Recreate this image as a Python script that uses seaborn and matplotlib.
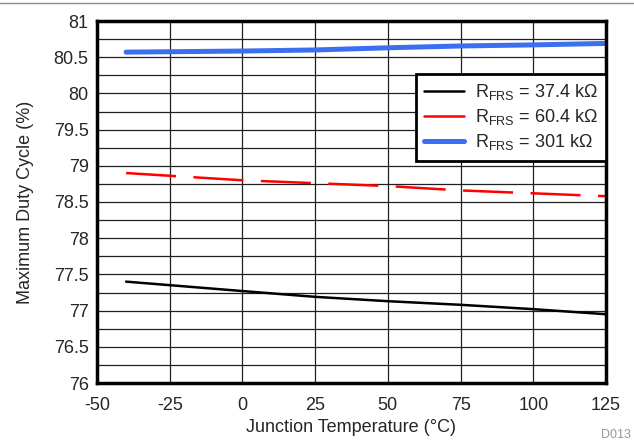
import numpy as np
import pandas as pd
import seaborn as sns
import matplotlib.pyplot as plt
from matplotlib.lines import Line2D

# junction temperature points (degC)
temp = [-40, 0, 25, 50, 75, 100, 125]

# maximum duty cycle (%) for each RFRS value
duty_374k = [77.40, 77.27, 77.19, 77.13, 77.08, 77.02, 76.95]
duty_604k = [78.90, 78.80, 78.76, 78.72, 78.66, 78.62, 78.58]
duty_301k = [80.57, 80.585, 80.60, 80.63, 80.655, 80.67, 80.69]

labels = ['R$_{\\mathregular{FRS}}$ = 37.4 k\u03a9',
          'R$_{\\mathregular{FRS}}$ = 60.4 k\u03a9',
          'R$_{\\mathregular{FRS}}$ = 301 k\u03a9']

sns.set_style('white')
plt.rcParams['font.family'] = ['Liberation Sans', 'DejaVu Sans']
plt.rcParams['mathtext.fontset'] = 'custom'
plt.rcParams['mathtext.rm'] = 'Liberation Sans'
plt.rcParams['axes.unicode_minus'] = False

fig = plt.figure(figsize=(6.34, 4.46), dpi=100)
ax = fig.add_axes([97 / 634, 1 - 383 / 446, (606 - 97) / 634, (383 - 21) / 446])

styles = [
    dict(color='black', lw=1.8),
    dict(color='red', lw=1.8, dashes=(20, 7)),
    dict(color='#3c6ef0', lw=3.6),
]
for vals, lab, st in zip([duty_374k, duty_604k, duty_301k], labels, styles):
    df = pd.DataFrame({'temp': temp, 'duty': vals})
    line = sns.lineplot(data=df, x='temp', y='duty', ax=ax, label=lab,
                        color=st['color'], lw=st['lw']).lines[-1]
    if 'dashes' in st:
        line.set_dashes(st['dashes'])

ax.set_xlim(-50, 125)
ax.set_ylim(76, 81)
ax.set_xticks(np.arange(-50, 126, 25))
ax.set_yticks(np.arange(76, 81.01, 0.5))
ax.set_yticklabels(['76', '76.5', '77', '77.5', '78', '78.5', '79', '79.5', '80', '80.5', '81'])
ax.set_yticks(np.arange(76, 81.01, 0.25), minor=True)
ax.grid(True, which='both', color='#202020', lw=0.9)
ax.tick_params(which='both', length=0, labelsize=13)
ax.tick_params(axis='x', pad=10)
ax.tick_params(axis='y', pad=6)
for s in ax.spines.values():
    s.set_linewidth(2.5)
    s.set_color('black')

ax.set_xlabel('Junction Temperature (\u00b0C)', fontsize=13, labelpad=4)
ax.set_ylabel('Maximum Duty Cycle (%)', fontsize=13, labelpad=14)

leg = ax.legend(loc='upper right', bbox_to_anchor=(1.0, 0.853), fontsize=13,
                frameon=True, fancybox=False, edgecolor='black', framealpha=1,
                handlelength=2.2, handletextpad=0.6, borderpad=0.45, labelspacing=0.28,
                borderaxespad=0)
leg.get_frame().set_linewidth(2)
for h in leg.get_lines():
    h.set_linestyle('-')

# separator line at top and figure id
fig.add_artist(Line2D([0, 1], [1 - 3 / 446, 1 - 3 / 446], color='#888888', lw=1))
fig.text(0.995, 0.012, 'D013', ha='right', va='bottom', fontsize=9, color='#999999')

plt.savefig('out.png', dpi=100)
